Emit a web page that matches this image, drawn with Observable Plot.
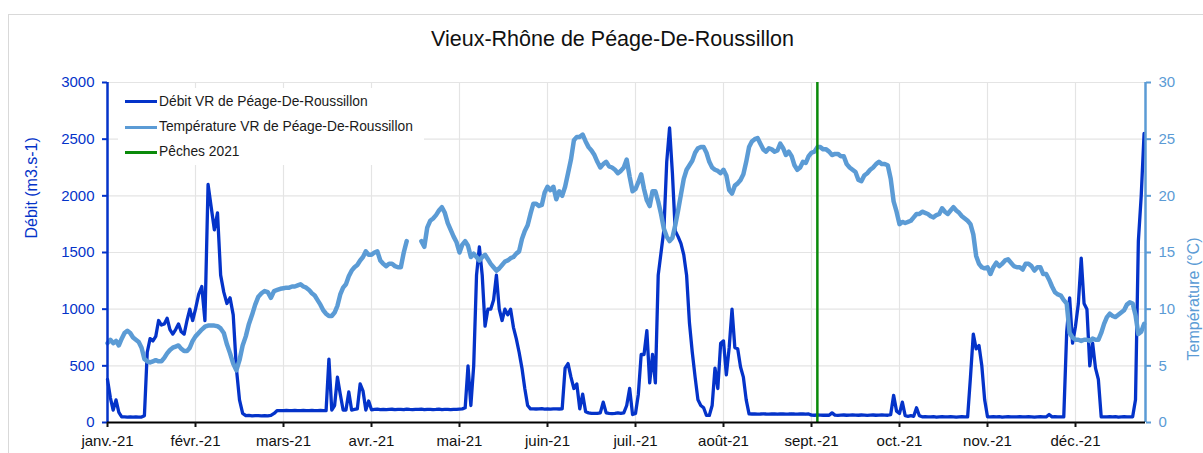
<!DOCTYPE html>
<html><head><meta charset="utf-8">
<script src="https://cdn.jsdelivr.net/npm/d3@7"></script>
<script src="https://cdn.jsdelivr.net/npm/@observablehq/plot@0.6"></script>
<style>
body{margin:0;background:#fff;font-family:"Liberation Sans",Arial,sans-serif;overflow:hidden;}
#wrap{position:relative;width:1203px;height:453px;overflow:hidden;}
#border{position:absolute;left:8px;top:14px;width:1400px;height:700px;border-left:1.5px solid #d9d9d9;border-top:1.5px solid #d9d9d9;z-index:5;pointer-events:none;}
#title{height:50px;box-sizing:border-box;padding-top:27px;padding-left:22px;line-height:24px;font-size:21.5px;text-align:center;color:#111;}
#legend{position:absolute;left:118px;top:88px;width:306px;height:77px;background:#fff;z-index:3;}
.item{position:absolute;left:7px;height:20px;width:300px;font-size:13.8px;color:#1a1a1a;white-space:nowrap;}
.sw{position:absolute;left:0;top:8.5px;width:32px;height:3px;}
.lab{position:absolute;left:34px;top:0;line-height:20px;}
</style></head>
<body><div id="wrap"><div id="border"></div><div id="title"></div><div id="chart"></div><div id="legend"></div></div>
<script>
const titre = "Vieux-Rhône de Péage-De-Roussillon";
const nomDebit = "Débit VR de Péage-De-Roussillon";
const nomTemp = "Température VR de Péage-De-Roussillon";
const nomPeche = "Pêches 2021";
const titreY = "Débit (m3.s-1)";
const titreY2 = "Température (°C)";
const moisLabels = ["janv.-21","févr.-21","mars-21","avr.-21","mai-21","juin-21","juil.-21","août-21","sept.-21","oct.-21","nov.-21","déc.-21"];
const debitTicks = [0,500,1000,1500,2000,2500,3000];
const tempTicks = [0,5,10,15,20,25,30];
const datePeche = "2021-09-03";
const dateFin = "2021-12-25T12:00Z";

// Débit journalier (m3/s), un tableau par mois
const debitJan = [380,220,110,200,90,50,50,48,50,47,50,48,48,60,620,740,720,760,900,860,870,920,820,780,820,870,800,780,900,1000,900];
const debitFev = [1000,1130,1200,900,2100,1900,1700,1850,1300,1150,1050,1100,950,480,200,80,60,62,58,60,61,59,60,58,62,80,105,104];
const debitMar = [105,106,104,105,107,105,104,106,105,105,106,104,105,107,105,104,560,110,150,400,250,110,110,270,110,115,120,340,280,110,190];
const debitAvr = [112,115,118,114,116,113,115,117,114,116,115,113,118,115,114,116,115,117,113,115,116,114,115,118,114,115,116,113,115,116];
const debitMai = [118,120,130,500,150,500,1300,1550,1300,850,1000,1000,1080,1300,1000,900,1000,950,1000,840,740,620,480,300,150,120,121,119,120,122,118];
const debitJuin = [120,118,121,120,119,120,480,520,400,300,340,120,250,95,85,80,80,80,85,180,85,80,78,80,85,80,85,150,300,70];
const debitJuil = [80,250,600,600,810,350,600,350,1300,1500,1700,2300,2600,2200,1690,1640,1580,1480,1300,880,620,400,200,150,130,62,62,150,480,300,700];
const debitAout = [720,420,660,1000,660,650,490,400,200,76,75,76,74,75,77,75,74,76,75,73,75,76,74,75,77,75,74,76,75,73,75];
const debitSept = [65,64,66,65,64,65,64,85,65,63,65,66,64,65,67,65,64,66,65,63,65,66,64,65,67,65,64,70,240,100];
const debitOct = [80,180,60,55,60,55,130,60,50,52,49,50,51,48,50,52,50,49,51,50,48,50,52,50,49,400,780,650,680,500,200];
const debitNov = [50,49,51,50,52,48,50,51,49,50,50,52,49,50,51,50,48,50,51,50,49,70,50,51,50,49,50,800,1100,700];
const debitDec = [850,1050,1450,1050,1000,500,700,480,380,50,50,49,51,50,52,48,50,51,49,50,50,200,1600,2000,2550];

// Température journalière (°C), un tableau par mois (null = lacune)
const tempJan = [7.0,7.3,7.0,7.2,6.8,7.4,7.9,8.1,7.9,7.5,7.3,7.1,6.6,5.6,5.4,5.3,5.4,5.5,5.4,5.4,5.7,6.1,6.4,6.6,6.7,6.8,6.5,6.3,6.3,6.6,7.2];
const tempFev = [7.6,7.9,8.2,8.45,8.55,8.55,8.55,8.5,8.3,7.9,6.9,6.1,5.2,4.6,5.5,6.8,7.6,8.7,9.5,10.4,11.1,11.4,11.6,11.5,11.0,11.6,11.7,11.8];
const tempMar = [11.85,11.9,11.9,12.0,12.0,12.1,12.2,12.0,11.9,11.7,11.4,11.2,10.8,10.4,9.9,9.6,9.4,9.4,9.7,10.3,11.3,11.9,12.2,12.9,13.4,13.7,13.9,14.3,14.6,15.1,14.8];
const tempAvr = [14.8,15.0,15.1,14.3,14.0,13.8,14.0,14.0,13.8,13.7,13.7,15.0,16.0,null,null,null,null,16.0,15.5,17.2,17.8,18.0,18.3,18.7,19.0,18.5,17.6,17.0,16.4,15.9];
const tempMai = [15.0,15.7,16.0,15.6,14.6,14.9,14.6,14.3,14.6,14.8,14.4,14.0,13.7,13.4,13.6,13.9,14.2,14.3,14.5,14.6,14.9,15.1,16.2,16.9,17.4,18.4,19.3,19.3,19.1,19.2,20.3];
const tempJuin = [20.8,20.5,20.8,19.7,20.4,20.0,20.8,22.0,23.2,24.9,25.2,25.2,25.4,24.8,24.3,24.0,23.6,23.0,22.5,22.8,23.0,22.6,22.5,22.3,22.0,22.2,22.5,23.2,21.7,20.4];
const tempJuil = [20.6,21.2,21.9,20.6,19.6,19.1,20.4,20.4,19.5,18.4,17.1,16.4,16.0,16.3,17.4,18.7,20.1,21.5,22.3,22.7,23.1,23.8,24.2,24.3,24.3,23.8,23.0,22.5,22.3,22.2,22.0];
const tempAout = [22.3,21.8,20.5,20.2,20.9,21.1,21.4,21.9,23.0,24.3,24.8,25.0,25.1,24.6,24.1,23.9,24.2,24.1,23.9,24.0,24.6,24.2,23.6,23.9,23.5,22.7,22.3,22.5,23.0,22.9,23.5];
const tempSept = [23.8,23.9,24.3,24.3,24.1,24.1,23.9,23.6,23.7,23.7,23.5,23.5,22.8,22.5,22.3,22.1,21.4,21.3,21.8,22.0,22.3,22.5,22.8,23.0,22.8,22.8,22.7,21.5,19.5,18.6];
const tempOct = [17.5,17.7,17.6,17.7,17.8,18.1,18.4,18.4,18.6,18.5,18.4,18.2,18.1,18.3,18.4,18.9,18.6,18.4,18.7,19.0,18.7,18.5,18.2,18.0,17.8,17.5,16.6,14.7,14.0,13.7,13.6];
const tempNov = [13.7,13.1,13.7,14.1,13.8,14.0,14.3,14.4,14.1,13.8,13.7,13.7,13.5,14.0,14.0,13.8,13.4,13.7,13.7,13.1,13.1,12.6,12.0,11.5,11.3,11.2,10.8,10.5,7.9,7.5];
const tempDec = [7.3,7.3,7.2,7.3,7.3,7.2,7.4,7.3,7.3,7.9,8.7,9.3,9.6,9.4,9.3,9.5,9.7,9.9,10.4,10.6,10.5,9.5,7.8,8.0,8.7];

const debitMois = [debitJan,debitFev,debitMar,debitAvr,debitMai,debitJuin,debitJuil,debitAout,debitSept,debitOct,debitNov,debitDec];
const tempMois = [tempJan,tempFev,tempMar,tempAvr,tempMai,tempJuin,tempJuil,tempAout,tempSept,tempOct,tempNov,tempDec];

const bleu = "#0433c9", bleuClair = "#5b9bd5", vert = "#0a8a0a";

const serie = [];
debitMois.forEach((arr, m) => arr.forEach((v, k) => {
  const t = tempMois[m][k];
  serie.push({date: new Date(Date.UTC(2021, m, k + 1)), debit: v, temp: t == null ? NaN : t});
}));
const debuts = moisLabels.map((_, m) => new Date(Date.UTC(2021, m, 1)));
const fin = new Date(dateFin);
const y2 = t => t * 100; // axe secondaire 0–30 °C aligné sur 0–3000

document.getElementById("title").textContent = titre;

const chart = Plot.plot({
  width: 1203, height: 403,
  marginLeft: 107, marginRight: 58, marginTop: 32, marginBottom: 31,
  style: {fontFamily: '"Liberation Sans", Arial, sans-serif', background: "transparent", overflow: "visible"},
  x: {type: "utc", domain: [...debuts, fin], range: [107,195,283,371,459,547,635,723,811,899,987,1075,1145]},
  y: {domain: [0, 3000]},
  marks: [
    Plot.ruleY(debitTicks.slice(1), {stroke: "#e4e4e4", strokeWidth: 1.2}),
    Plot.ruleX(debuts.slice(1), {stroke: "#e4e4e4", strokeWidth: 1.2}),
    Plot.line(serie, {x: "date", y: "debit", stroke: bleu, strokeWidth: 3.3, strokeLinejoin: "round"}),
    Plot.line(serie, {x: "date", y: d => y2(d.temp), stroke: bleuClair, strokeWidth: 4.5, strokeLinejoin: "round"}),
    Plot.ruleX([new Date(datePeche)], {stroke: vert, strokeWidth: 2.5}),
    Plot.ruleX([debuts[0]], {stroke: bleu, strokeWidth: 2.5}),
    Plot.ruleX([fin], {stroke: bleuClair, strokeWidth: 2.5}),
    Plot.ruleY([0], {stroke: "#000", strokeWidth: 2}),
    Plot.axisY({anchor: "left", ticks: debitTicks, tickFormat: d => String(d), tickSize: 5, tickPadding: 8, fontSize: 15, color: bleu, strokeWidth: 2, label: null}),
    Plot.axisY({anchor: "right", ticks: tempTicks.map(y2), tickFormat: d => String(d / 100), tickSize: 5, tickPadding: 8, fontSize: 15, color: bleuClair, strokeWidth: 2, label: null}),
    Plot.axisX({ticks: debuts, tickFormat: d => moisLabels[d.getUTCMonth()], tickSize: 5, tickPadding: 8, fontSize: 15, color: "#111", strokeWidth: 2, label: null}),
    Plot.text([titreY], {frameAnchor: "left", dx: -76, dy: -14, rotate: -90, fill: bleu, fontSize: 16, text: d => d}),
    Plot.text([titreY2], {frameAnchor: "right", dx: 48, dy: -15, rotate: -90, fill: bleuClair, fontSize: 16, text: d => d})
  ]
});
document.getElementById("chart").appendChild(chart);

const legend = document.getElementById("legend");
[[nomDebit, bleu], [nomTemp, bleuClair], [nomPeche, vert]].forEach(([name, c], i) => {
  const it = document.createElement("div");
  it.className = "item";
  it.style.top = (3.7 + i * 25.3) + "px";
  const sw = document.createElement("div");
  sw.className = "sw"; sw.style.background = c;
  const lab = document.createElement("span");
  lab.className = "lab"; lab.textContent = name;
  it.appendChild(sw); it.appendChild(lab);
  legend.appendChild(it);
});
</script>
</body></html>
